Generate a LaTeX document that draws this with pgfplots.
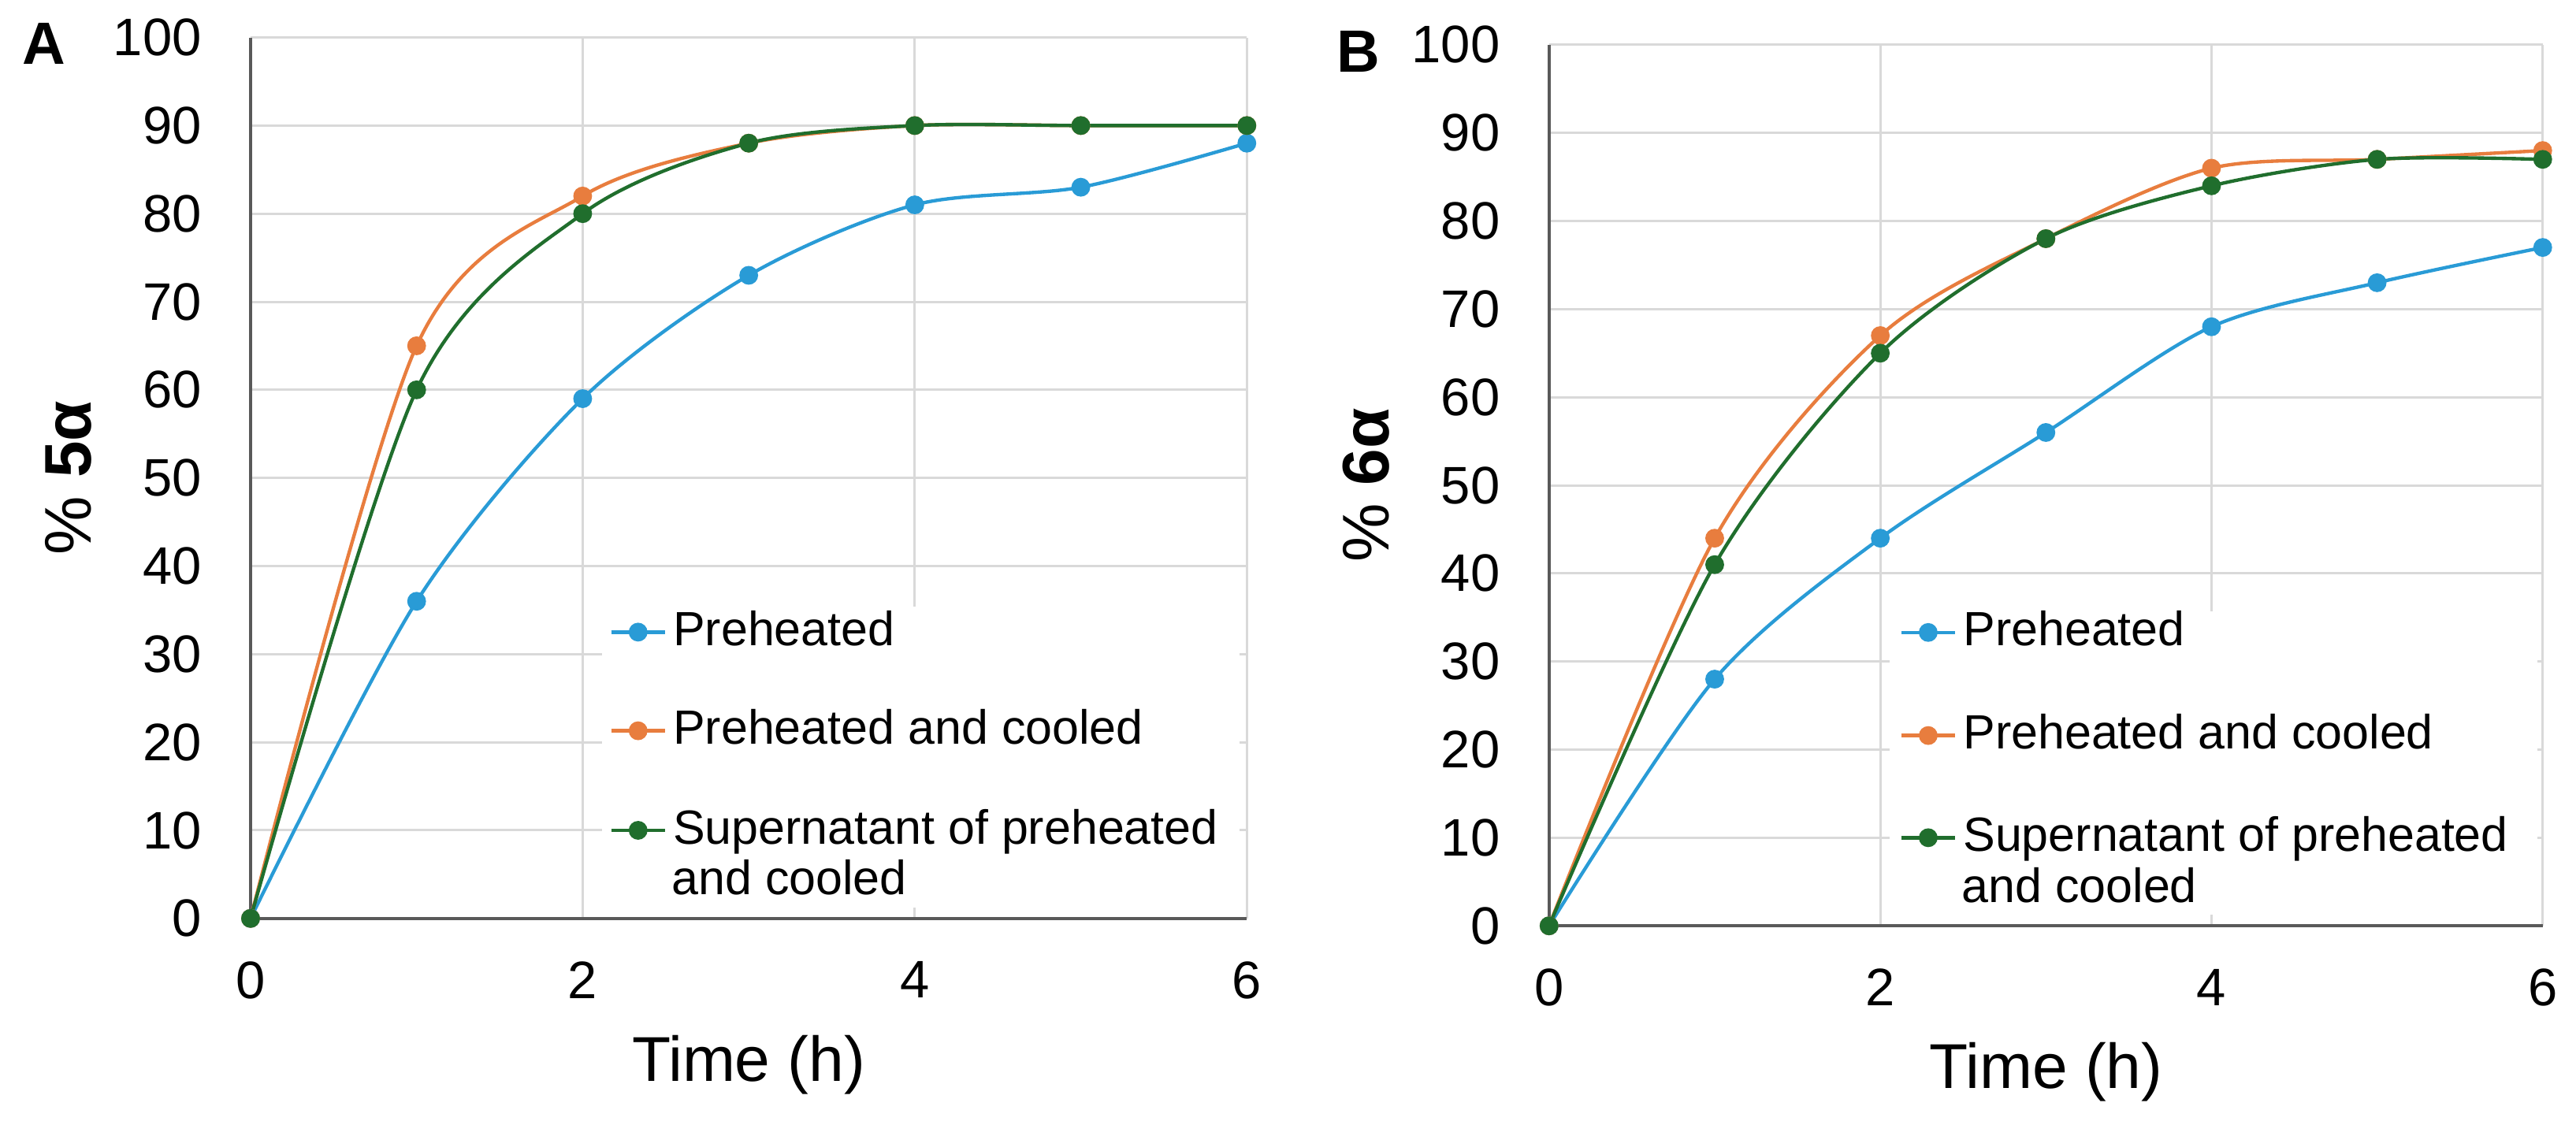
\documentclass[border=0pt]{standalone}
\usepackage{fontspec}
\setmainfont{Liberation Sans}
\usepackage{pgfplots}
\pgfplotsset{compat=1.18}
\definecolor{cblue}{RGB}{41,155,214}
\definecolor{corange}{RGB}{232,125,62}
\definecolor{cgreen}{RGB}{32,110,45}
\definecolor{cgrid}{RGB}{217,217,217}
\definecolor{caxis}{RGB}{89,89,89}
\pgfplotsset{
  panel/.style={
    scale only axis, height=166.9pt,
    xmin=0, xmax=6, ymin=0, ymax=100,
    xtick={0,2,4,6}, ytick={0,10,...,100},
    axis x line*=bottom, axis y line*=left,
    axis line style={-, caxis, line width=0.55pt},
    major tick length=0pt,
    grid=major, major grid style={cgrid, line width=0.45pt},
    tick label style={font=\fontsize{10}{12}\selectfont},
    /pgf/number format/assume math mode=true,
    yticklabel style={inner sep=0pt, xshift=-9.1pt},
    xticklabel style={inner sep=0pt, yshift=-8pt},
    every axis plot/.append style={line width=0.65pt, mark=*, mark size=1.45pt, smooth, forget plot},
    clip=false,
    legend style={draw=none, fill=white, inner sep=0pt, anchor=north west},
  },
  legax/.style={
    scale only axis, height=166.9pt,
    xmin=0, xmax=6, ymin=0, ymax=100, hide axis, clip=false,
    legend cell align=left,
    legend image code/.code={\draw[mark repeat=2,mark phase=2] plot coordinates {(0pt,0pt) (5.1pt,0pt) (10.2pt,0pt)};},
    legend style={anchor=west, draw=none, fill=none, inner sep=0pt, column sep=1.2pt,
      nodes={inner sep=0pt, font=\fontsize{9.1}{11}\selectfont}},
  }
}
% #1 axis anchor x, #2 axis anchor y, #3 axis width, #4 legend x, #5 legend y, #6 image options, #7 text
\newcommand{\legrow}[7]{%
\begin{axis}[legax, width=#3, at={(#1,#2)}, anchor=south west, legend style={at={(axis cs:#4,#5)}}]
\addlegendimage{#6}
\addlegendentry{#7}
\end{axis}}
\begin{document}
\begin{tikzpicture}
\path[use as bounding box] (0,0) rectangle (487.9pt,-213pt);
% Panel A
\begin{axis}[panel, name=A, width=188.7pt, at={(47.46pt,-174pt)}, anchor=south west,
  legend style={at={(axis cs:2.11,35.5)}, minimum width=120.7pt, minimum height=57pt}]
\addplot[cblue] coordinates {(0,0) (1,36) (2,59) (3,73) (4,81) (5,83) (6,88)};
\addplot[corange] coordinates {(0,0) (1,65) (2,82) (3,88) (4,90) (5,90) (6,90)};
\addplot[cgreen] coordinates {(0,0) (1,60) (2,80) (3,88) (4,90) (5,90) (6,90)};
\addlegendimage{empty legend}
\addlegendentry{\phantom{x}}
\end{axis}
\legrow{47.46pt}{-174pt}{188.7pt}{2.155}{32.5}{cblue, mark=*, line width=0.65pt, mark size=1.45pt}{Preheated}
\legrow{47.46pt}{-174pt}{188.7pt}{2.155}{21.3}{corange, mark=*, line width=0.65pt, mark size=1.45pt}{Preheated and cooled}
\legrow{47.46pt}{-174pt}{188.7pt}{2.155}{10.0}{cgreen, mark=*, line width=0.65pt, mark size=1.45pt}{Supernatant of preheated}
\legrow{47.46pt}{-174pt}{188.7pt}{2.155}{4.2}{draw opacity=0, mark=none}{and cooled}
% Panel B
\begin{axis}[panel, name=B, width=188.2pt, at={(293.4pt,-175.4pt)}, anchor=south west,
  legend style={at={(axis cs:2.05,35.8)}, minimum width=122.7pt, minimum height=57.5pt}]
\addplot[cblue] coordinates {(0,0) (1,28) (2,44) (3,56) (4,68) (5,73) (6,77)};
\addplot[corange] coordinates {(0,0) (1,44) (2,67) (3,78) (4,86) (5,87) (6,88)};
\addplot[cgreen] coordinates {(0,0) (1,41) (2,65) (3,78) (4,84) (5,87) (6,87)};
\addlegendimage{empty legend}
\addlegendentry{\phantom{x}}
\end{axis}
\legrow{293.4pt}{-175.4pt}{188.2pt}{2.11}{33.3}{cblue, mark=*, line width=0.65pt, mark size=1.45pt}{Preheated}
\legrow{293.4pt}{-175.4pt}{188.2pt}{2.11}{21.6}{corange, mark=*, line width=0.65pt, mark size=1.45pt}{Preheated and cooled}
\legrow{293.4pt}{-175.4pt}{188.2pt}{2.11}{10.0}{cgreen, mark=*, line width=0.65pt, mark size=1.45pt}{Supernatant of preheated}
\legrow{293.4pt}{-175.4pt}{188.2pt}{2.11}{4.2}{draw opacity=0, mark=none}{and cooled}
% labels
\node[anchor=north, inner sep=0pt, font=\fontsize{12}{14}\selectfont] at ([yshift=-21.9pt]A.south) {Time (h)};
\node[anchor=north, inner sep=0pt, font=\fontsize{12}{14}\selectfont] at ([yshift=-21.9pt]B.south) {Time (h)};
\node[rotate=90, anchor=south, inner sep=0pt, font=\fontsize{12.5}{14}\selectfont] at ([xshift=-29.85pt]A.west) {\% \textbf{5α}};
\node[rotate=90, anchor=south, inner sep=0pt, font=\fontsize{12.5}{14}\selectfont] at ([xshift=-30.1pt]B.west) {\% \textbf{6α}};
\node[anchor=base west, inner sep=0pt, font=\fontsize{11.3}{13}\selectfont\bfseries] at (4pt,-12.2pt) {A};
\node[anchor=base west, inner sep=0pt, font=\fontsize{11.3}{13}\selectfont\bfseries] at (253pt,-13.6pt) {B};
\end{tikzpicture}
\end{document}
